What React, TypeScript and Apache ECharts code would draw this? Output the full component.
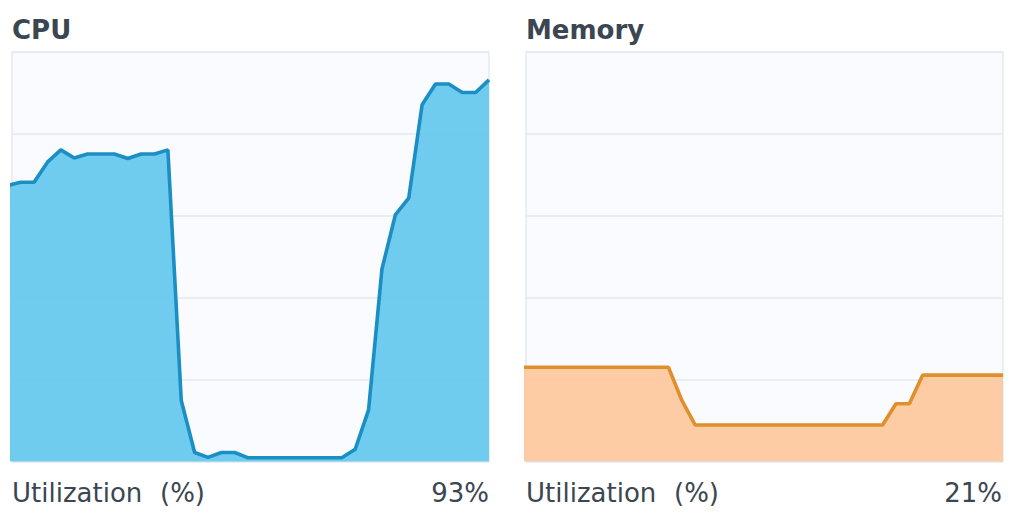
import React, { useEffect, useRef } from "react";
import * as echarts from "echarts";

const panelTitles = ["CPU", "Memory"];
const metricLabel = "Utilization";
const unitLabel = "(%)";
const currentValues = ["93%", "21%"];
// sample index from -1 (partly off-window) to 35
const cpuValues = [
  67.4, 68.2, 68.2, 73.1, 76.1, 74.1, 75.1, 75.1, 75.1, 74.0, 75.1, 75.1, 76.1,
  14.9, 2.2, 1.0, 2.2, 2.2, 0.9, 0.9, 0.9, 0.9, 0.9, 0.9, 0.9, 0.9, 3.0, 12.6,
  47.0, 60.2, 64.3, 87.1, 92.2, 92.2, 90.1, 90.1, 93.2,
];
const memValues = [
  23.0, 23.0, 23.0, 23.0, 23.0, 23.0, 23.0, 23.0, 23.0, 23.0, 23.0, 23.0, 14.9,
  8.9, 8.9, 8.9, 8.9, 8.9, 8.9, 8.9, 8.9, 8.9, 8.9, 8.9, 8.9, 8.9, 8.9, 8.9,
  14.1, 14.1, 21.1, 21.1, 21.1, 21.1, 21.1, 21.1, 21.1,
];

const FONT = "DejaVu Sans";
const TEXT = "#3c4651";

export default function App() {
  const ref = useRef<HTMLDivElement>(null);
  useEffect(() => {
    document.body.style.margin = "0";
    const chart = echarts.init(ref.current!, null, { renderer: "svg" });
    const toPairs = (arr: number[]) => arr.map((v, i) => [i - 1, v]);
    const grids = [
      { left: 12, top: 52, width: 477, height: 409.5 },
      { left: 526, top: 52, width: 477, height: 409.5 },
    ].map((g) => ({
      ...g,
      show: true,
      backgroundColor: "#f9fbfe",
      borderColor: "#d5dfe9",
      borderWidth: 1,
    }));
    const xAxes = [0, 1].map((i) => ({
      type: "value",
      gridIndex: i,
      min: -0.65,
      max: 35,
      show: false,
      splitLine: { show: false },
    }));
    const yAxes = [0, 1].map((i) => ({
      type: "value",
      gridIndex: i,
      min: 0,
      max: 100,
      interval: 20,
      axisLabel: { show: false },
      axisLine: { show: false },
      axisTick: { show: false },
      splitLine: { show: true, lineStyle: { color: "#e3eaf2", width: 1.5 } },
    }));
    const texts: any[] = [];
    const lefts = [12, 526];
    const rights = [489, 1002];
    const label = (x: number, y: number, text: string, align: string, bold = false) => ({
      type: "text",
      x,
      y,
      style: {
        text,
        font: `${bold ? "bold " : ""}26px "${FONT}"`,
        fill: TEXT,
        align,
        verticalAlign: "middle",
      },
    });
    for (let i = 0; i < 2; i++) {
      texts.push(label(lefts[i], 30, panelTitles[i], "left", true));
      texts.push(label(lefts[i], 493, metricLabel, "left"));
      texts.push(label(lefts[i] + 148, 493, unitLabel, "left"));
      texts.push(label(rights[i], 493, currentValues[i], "right"));
    }
    chart.setOption({
      animation: false,
      grid: grids,
      xAxis: xAxes,
      yAxis: yAxes,
      series: [
        {
          type: "line",
          xAxisIndex: 0,
          yAxisIndex: 0,
          data: toPairs(cpuValues),
          symbol: "none",
          clip: true,
          lineStyle: { color: "#1b8fc4", width: 3.6 },
          areaStyle: { color: "#61c6ec", opacity: 0.9 },
          z: 3,
        },
        {
          type: "line",
          xAxisIndex: 1,
          yAxisIndex: 1,
          data: toPairs(memValues),
          symbol: "none",
          clip: true,
          lineStyle: { color: "#df8f2b", width: 3.6 },
          areaStyle: { color: "#fdc69b", opacity: 0.9 },
          z: 3,
        },
      ],
      graphic: texts,
    });
    return () => chart.dispose();
  }, []);
  return <div ref={ref} style={{ width: 1018, height: 518 }} />;
}
